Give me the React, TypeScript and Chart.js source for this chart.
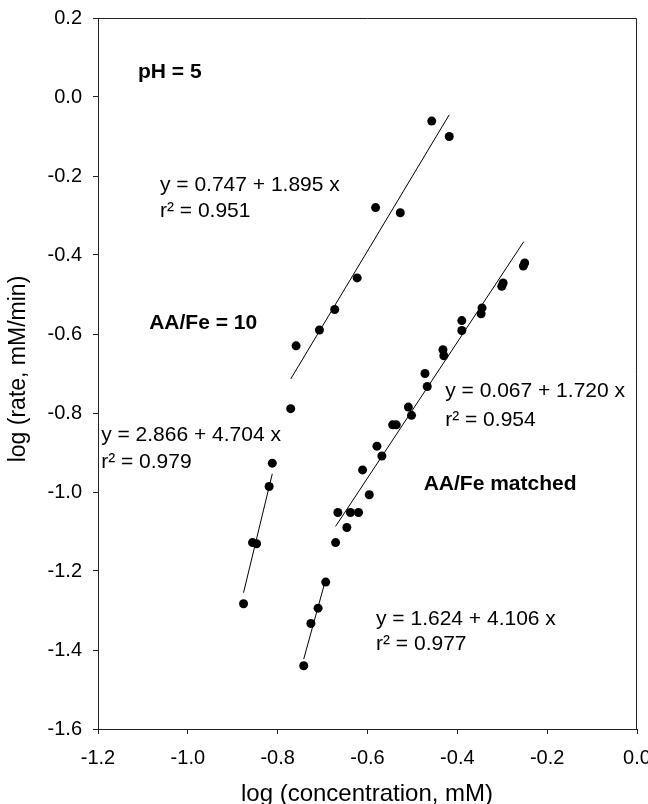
import React, { useEffect, useRef } from "react";
import { Chart, registerables } from "chart.js";

Chart.register(...registerables);

const FONT = "'Liberation Sans', Arial, Helvetica, sans-serif";

// Axis ticks
const xTicks = [-1.2, -1.0, -0.8, -0.6, -0.4, -0.2, 0.0];
const yTicks = [-1.6, -1.4, -1.2, -1.0, -0.8, -0.6, -0.4, -0.2, 0.0, 0.2];

// AA/Fe = 10 measurements
const aa10X = [-0.457, -0.418, -0.582, -0.527, -0.623, -0.673, -0.707, -0.759, -0.771, -0.812, -0.819, -0.847, -0.856, -0.876];
const aa10Y = [-0.061, -0.100, -0.280, -0.293, -0.458, -0.538, -0.590, -0.630, -0.789, -0.927, -0.986, -1.131, -1.128, -1.283];

// AA/Fe matched measurements
const matchedX = [-0.253, -0.250, -0.301, -0.298, -0.345, -0.347, -0.390, -0.390, -0.432, -0.430, -0.472, -0.467, -0.509, -0.502, -0.544, -0.536, -0.579, -0.568, -0.611, -0.596, -0.666, -0.638, -0.620, -0.646, -0.671, -0.693, -0.710, -0.726, -0.742];
const matchedY = [-0.428, -0.420, -0.479, -0.471, -0.534, -0.549, -0.566, -0.591, -0.640, -0.655, -0.700, -0.733, -0.785, -0.806, -0.830, -0.830, -0.884, -0.909, -0.944, -1.007, -1.052, -1.052, -1.052, -1.090, -1.128, -1.228, -1.294, -1.333, -1.440];

// Regression line end points
const fitAa10HighX = [-0.771, -0.418];
const fitAa10HighY = [-0.714, -0.045];
const fitAa10LowX = [-0.876, -0.812];
const fitAa10LowY = [-1.255, -0.954];
const fitMatchedHighX = [-0.671, -0.252];
const fitMatchedHighY = [-1.087, -0.366];
const fitMatchedLowX = [-0.742, -0.693];
const fitMatchedLowY = [-1.423, -1.221];

// Annotation texts
const labelTexts = [
  "pH = 5",
  "y = 0.747 + 1.895 x",
  "r\u00B2 = 0.951",
  "AA/Fe = 10",
  "y = 0.067 + 1.720 x",
  "r\u00B2 = 0.954",
  "y = 2.866 + 4.704 x",
  "r\u00B2 = 0.979",
  "AA/Fe matched",
  "y = 1.624 + 4.106 x",
  "r\u00B2 = 0.977",
];

const xTitle = "log (concentration, mM)";
const yTitle = "log (rate, mM/min)";

const toPts = (xs: number[], ys: number[]) => xs.map((x, i) => ({ x, y: ys[i] }));
const fmt = (v: number) => (Math.abs(v) < 1e-9 ? "0.0" : v.toFixed(1));

export default function App() {
  const ref = useRef<HTMLCanvasElement | null>(null);

  useEffect(() => {
    if (!ref.current) return;

    // label positions in data coordinates (left edge, vertical middle) and weight
    const labelPlacement = [
      { x: -1.111, y: 0.063, bold: true },
      { x: -1.062, y: -0.223, bold: false },
      { x: -1.062, y: -0.289, bold: false },
      { x: -1.086, y: -0.572, bold: true },
      { x: -0.427, y: -0.745, bold: false },
      { x: -0.427, y: -0.818, bold: false },
      { x: -1.193, y: -0.856, bold: false },
      { x: -1.193, y: -0.924, bold: false },
      { x: -0.475, y: -0.980, bold: true },
      { x: -0.581, y: -1.321, bold: false },
      { x: -0.581, y: -1.385, bold: false },
    ];

    const overlay = {
      id: "overlay",
      afterDraw(chart: any) {
        const { ctx, chartArea: a, scales } = chart;
        const sx = scales.x;
        const sy = scales.y;
        ctx.save();
        ctx.strokeStyle = "#222";
        ctx.lineWidth = 1;
        ctx.beginPath();
        ctx.moveTo(a.left, a.top + 0.5);
        ctx.lineTo(a.right - 0.5, a.top + 0.5);
        ctx.lineTo(a.right - 0.5, a.bottom);
        ctx.stroke();

        ctx.fillStyle = "#000";
        ctx.textAlign = "left";
        ctx.textBaseline = "middle";
        labelTexts.forEach((t, i) => {
          const p = labelPlacement[i];
          ctx.font = `${p.bold ? "bold " : ""}21px ${FONT}`;
          ctx.fillText(t, sx.getPixelForValue(p.x), sy.getPixelForValue(p.y));
        });

        ctx.font = `24px ${FONT}`;
        ctx.textAlign = "center";
        ctx.textBaseline = "alphabetic";
        ctx.fillText(xTitle, 367, 801);

        ctx.font = `23px ${FONT}`;
        ctx.save();
        ctx.translate(19, 369);
        ctx.rotate(-Math.PI / 2);
        ctx.textBaseline = "middle";
        ctx.fillText(yTitle, 0, 0);
        ctx.restore();
        ctx.restore();
      },
    };

    const chart = new Chart(ref.current, {
      type: "scatter",
      data: {
        datasets: [
          { data: toPts(fitAa10HighX, fitAa10HighY), showLine: true, pointRadius: 0, borderColor: "#000", borderWidth: 1, order: 2 },
          { data: toPts(fitAa10LowX, fitAa10LowY), showLine: true, pointRadius: 0, borderColor: "#000", borderWidth: 1, order: 2 },
          { data: toPts(fitMatchedHighX, fitMatchedHighY), showLine: true, pointRadius: 0, borderColor: "#000", borderWidth: 1, order: 2 },
          { data: toPts(fitMatchedLowX, fitMatchedLowY), showLine: true, pointRadius: 0, borderColor: "#000", borderWidth: 1, order: 2 },
          { data: toPts(aa10X, aa10Y), pointRadius: 4.5, pointBackgroundColor: "#000", pointBorderWidth: 0, order: 1 },
          { data: toPts(matchedX, matchedY), pointRadius: 4.5, pointBackgroundColor: "#000", pointBorderWidth: 0, order: 1 },
        ],
      },
      options: {
        responsive: false,
        animation: false,
        devicePixelRatio: 1,
        layout: { padding: { top: 18, right: 11, left: 0, bottom: 0 } },
        plugins: { legend: { display: false }, tooltip: { enabled: false } },
        scales: {
          x: {
            type: "linear",
            min: -1.2,
            max: 0,
            afterBuildTicks: (s: any) => {
              s.ticks = xTicks.map((v) => ({ value: v }));
            },
            afterFit: (s: any) => {
              s.height = 75;
              s.paddingLeft = 0;
              s.paddingRight = 0;
            },
            ticks: {
              callback: (v: any) => fmt(Number(v)),
              font: { size: 20, family: FONT },
              color: "#000",
              padding: 12,
              maxRotation: 0,
              autoSkip: false,
            },
            grid: { drawOnChartArea: false, drawTicks: true, tickLength: 5, color: "#222" },
            border: { display: true, color: "#222", width: 1 },
          },
          y: {
            type: "linear",
            min: -1.6,
            max: 0.2,
            afterBuildTicks: (s: any) => {
              s.ticks = yTicks.map((v) => ({ value: v }));
            },
            afterFit: (s: any) => {
              s.width = 98;
              s.paddingTop = 0;
              s.paddingBottom = 0;
            },
            ticks: {
              callback: (v: any) => fmt(Number(v)),
              font: { size: 20, family: FONT },
              color: "#000",
              padding: 11,
              autoSkip: false,
            },
            grid: { drawOnChartArea: false, drawTicks: true, tickLength: 5, color: "#222" },
            border: { display: true, color: "#222", width: 1 },
          },
        },
      },
      plugins: [overlay],
    } as any);

    return () => chart.destroy();
  }, []);

  return (
    <div style={{ position: "absolute", left: 0, top: 0, width: 648, height: 804, background: "#fff" }}>
      <canvas ref={ref} width={648} height={804} style={{ display: "block", width: 648, height: 804 }} />
    </div>
  );
}
